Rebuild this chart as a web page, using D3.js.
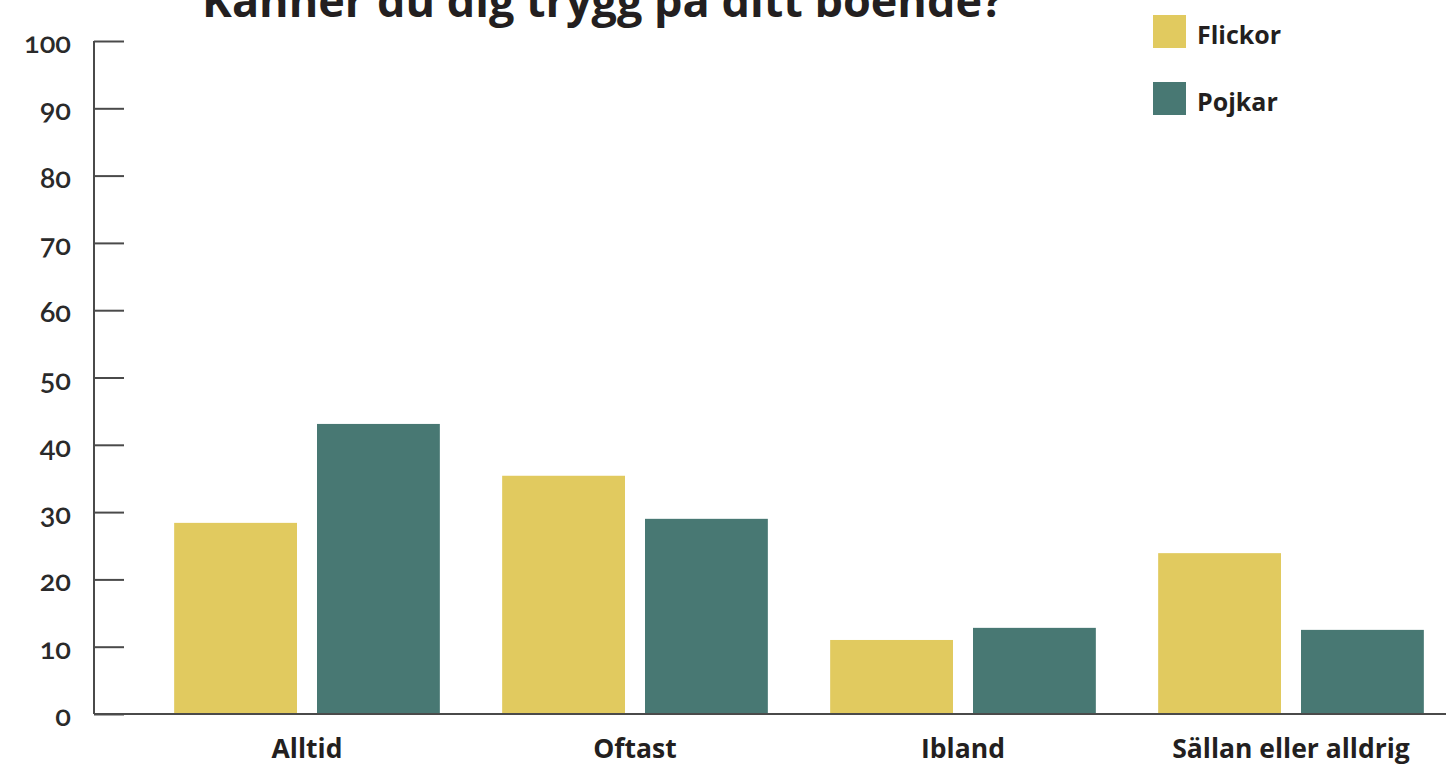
<!DOCTYPE html>
<html>
<head>
<meta charset="utf-8">
<script src="https://cdn.jsdelivr.net/npm/d3@7"></script>
<style>
  body { margin: 0; background: #fff; }
  svg { display: block; }
</style>
</head>
<body>
<script>
// data
const categories = ["Alltid", "Oftast", "Ibland", "Sällan eller alldrig"];
const seriesNames = ["Flickor", "Pojkar"];
const flickor = [28.4, 35.4, 11.0, 23.9];
const pojkar = [43.1, 29.0, 12.8, 12.5];
const yTicks = [0, 10, 20, 30, 40, 50, 60, 70, 80, 90, 100];
const colors = ["#e1ca5f", "#487873"];
const title = "Känner du dig trygg på ditt boende?";

const width = 1446, height = 766;
const axisX = 94;

const svg = d3.select("body").append("svg")
    .attr("width", width)
    .attr("height", height);

const y = d3.scaleLinear()
    .domain([0, 100])
    .range([714, 41]);

const x = d3.scaleBand()
    .domain(categories)
    .range([143, 1455])
    .paddingInner(0.19)
    .paddingOuter(0.095);

const x1 = d3.scaleBand()
    .domain(seriesNames)
    .range([0, x.bandwidth()])
    .paddingInner(0.14);

// title (cut off at the top in the original)
svg.append("text")
    .attr("x", 202)
    .attr("y", 17)
    .style("font-family", "'Open Sans', sans-serif")
    .style("font-weight", "bold")
    .style("font-size", "45px")
    .attr("fill", "#231f20")
    .text(title);

// bars
const rows = categories.map((c, i) => ({ cat: c, values: [flickor[i], pojkar[i]] }));

const groups = svg.selectAll("g.group")
    .data(rows)
    .enter().append("g")
    .attr("class", "group")
    .attr("transform", d => `translate(${x(d.cat)},0)`);

groups.selectAll("rect")
    .data(d => d.values.map((v, j) => ({ name: seriesNames[j], value: v, j })))
    .enter().append("rect")
    .attr("x", d => x1(d.name))
    .attr("y", d => y(d.value))
    .attr("width", x1.bandwidth())
    .attr("height", d => y(0) - y(d.value))
    .attr("fill", d => colors[d.j]);

// y axis with inward ticks
const yAxis = svg.append("g")
    .attr("transform", `translate(${axisX},0)`)
    .call(d3.axisRight(y).tickValues(yTicks).tickSize(30).tickFormat(""));
yAxis.select(".domain").remove();
yAxis.selectAll(".tick line").attr("stroke", "#4a4a4a").attr("stroke-width", 2);

svg.append("line")
    .attr("x1", axisX).attr("x2", axisX)
    .attr("y1", y(100)).attr("y2", y(0))
    .attr("stroke", "#4a4a4a")
    .attr("stroke-width", 2);

svg.append("line")
    .attr("x1", axisX).attr("x2", width)
    .attr("y1", y(0)).attr("y2", y(0))
    .attr("stroke", "#4a4a4a")
    .attr("stroke-width", 2);

svg.selectAll("text.ytick")
    .data(yTicks)
    .enter().append("text")
    .attr("class", "ytick")
    .attr("x", 71)
    .attr("y", d => y(d) + 12)
    .attr("text-anchor", "end")
    .style("font-family", "Lato, sans-serif")
    .style("font-variant-numeric", "oldstyle-nums")
    .style("font-size", "29px")
    .style("font-weight", "600")
    .attr("fill", "#2a2a2a")
    .text(d => d);

// category labels
svg.selectAll("text.cat")
    .data(categories)
    .enter().append("text")
    .attr("class", "cat")
    .attr("x", d => x(d) + x.bandwidth() / 2)
    .attr("y", 758)
    .attr("text-anchor", "middle")
    .style("font-family", "'Open Sans', sans-serif")
    .style("font-weight", "bold")
    .style("font-size", "26.5px")
    .attr("fill", "#231f20")
    .text(d => d);

// legend
const legend = svg.selectAll("g.legend")
    .data(seriesNames)
    .enter().append("g")
    .attr("class", "legend")
    .attr("transform", (d, i) => `translate(1153,${15 + i * 67})`);

legend.append("rect")
    .attr("width", 33)
    .attr("height", 33)
    .attr("fill", (d, i) => colors[i]);

legend.append("text")
    .attr("x", 44)
    .attr("y", 29)
    .style("font-family", "'Open Sans', sans-serif")
    .style("font-weight", "bold")
    .style("font-size", "25px")
    .attr("fill", "#231f20")
    .text(d => d);
</script>
</body>
</html>
